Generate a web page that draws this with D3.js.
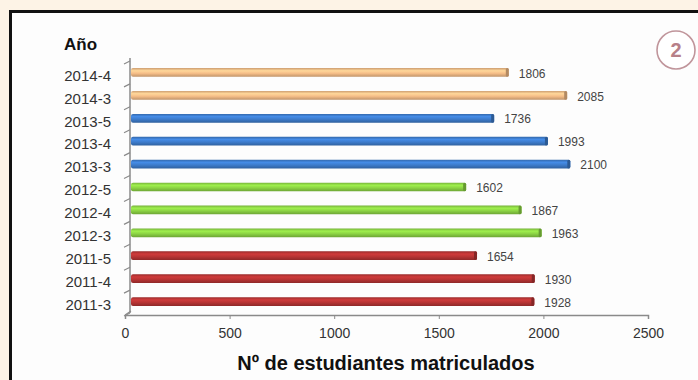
<!DOCTYPE html>
<html><head><meta charset="utf-8">
<script src="https://cdn.jsdelivr.net/npm/d3@7"></script>
<style>
html,body{margin:0;padding:0;background:#fdf3e6;}
svg{display:block;}
</style></head>
<body>
<svg id="c" width="698" height="380"></svg>
<script>
const categories = ["2011-3","2011-4","2011-5","2012-3","2012-4","2012-5","2013-3","2013-4","2013-5","2014-3","2014-4"];
const values = [1928,1930,1654,1963,1867,1602,2100,1993,1736,2085,1806];
const groups = ["2011","2011","2011","2012","2012","2012","2013","2013","2013","2014","2014"];
const groupNames = ["2011","2012","2013","2014"];
const groupColors = ["#b83434","#8cd444","#3d7ccc","#f6be88"];
const xTicks = [0,500,1000,1500,2000,2500];
const yTitle = "Año";
const xTitle = "Nº de estudiantes matriculados";
const badge = "2";

const svg = d3.select("#c");
// panel
svg.append("rect").attr("x",0).attr("y",0).attr("width",698).attr("height",380).attr("fill","#fdf3e6");
svg.append("rect").attr("x",11).attr("y",12).attr("width",700).attr("height",380).attr("fill","#fdfdfd");
svg.append("line").attr("x1",9.5).attr("x2",698).attr("y1",11.5).attr("y2",11.5).attr("stroke","#111").attr("stroke-width",3);
svg.append("line").attr("x1",10.5).attr("x2",10.5).attr("y1",10).attr("y2",380).attr("stroke","#111").attr("stroke-width",3);

const color = d3.scaleOrdinal().domain(groupNames).range(groupColors);
const x = d3.scaleLinear().domain([0,2500]).range([125,648]);
const y = d3.scaleBand().domain(categories.slice().reverse()).range([61,313]).paddingInner(0.62).paddingOuter(0.31);
const data = categories.map((c,i)=>({c, v:values[i], g:groups[i]}));

// gradients
const defs = svg.append("defs");
groupNames.forEach((g,i)=>{
  const base = d3.color(groupColors[i]);
  const gr = defs.append("linearGradient").attr("id","g"+g).attr("x1",0).attr("x2",0).attr("y1",0).attr("y2",1);
  gr.append("stop").attr("offset","0%").attr("stop-color",base.darker(0.5));
  gr.append("stop").attr("offset","30%").attr("stop-color",base.brighter(0.35));
  gr.append("stop").attr("offset","60%").attr("stop-color",base);
  gr.append("stop").attr("offset","100%").attr("stop-color",base.darker(0.7));
});

// axes
const axisColor = "#8a8a8a";
const xAxis = d3.axisBottom(x).tickValues(xTicks).tickSize(4).tickPadding(9).tickFormat(d3.format("d"));
const gx = svg.append("g").attr("transform","translate(0,315)").call(xAxis);
gx.select(".domain").attr("stroke",axisColor).attr("stroke-width",1.5);
gx.selectAll(".tick line").attr("stroke",axisColor);
gx.selectAll("text").attr("font-family","'Liberation Sans', Arial, sans-serif").attr("font-size",14).attr("fill","#333");

svg.append("line").attr("x1",130).attr("x2",130).attr("y1",58).attr("y2",313).attr("stroke",axisColor).attr("stroke-width",1.5);
svg.append("line").attr("x1",125).attr("x2",131).attr("y1",315).attr("y2",311).attr("stroke",axisColor).attr("stroke-width",1.2);
const bounds = categories.map(c=>y(c)-y.step()*y.paddingInner()/2).concat([313]);
svg.append("g").selectAll("line").data(bounds).join("line")
  .attr("x1",124).attr("x2",130).attr("y1",d=>d+3).attr("y2",d=>d)
  .attr("stroke",axisColor).attr("stroke-width",1.2);

svg.append("g").selectAll("text").data(categories).join("text")
  .attr("x",111).attr("y",c=>y(c)+y.bandwidth()/2+3)
  .attr("dy","0.35em").attr("text-anchor","end")
  .attr("font-family","'Liberation Sans', Arial, sans-serif").attr("font-size",15).attr("fill","#333")
  .text(c=>c);

// bars
const off = 6;
const bars = svg.append("g");
bars.selectAll("rect.bar").data(data).join("rect").attr("class","bar")
  .attr("x",x(0)+off).attr("y",d=>y(d.c)).attr("height",y.bandwidth())
  .attr("width",d=>x(d.v)-x(0)).attr("rx",2)
  .attr("fill",d=>"url(#g"+d.g+")");
bars.selectAll("rect.cap").data(data).join("rect").attr("class","cap")
  .attr("x",d=>x(d.v)+off-3).attr("y",d=>y(d.c)).attr("height",y.bandwidth())
  .attr("width",3).attr("rx",1.5)
  .attr("fill",d=>d3.color(color(d.g)).darker(0.9));

svg.append("g").selectAll("text").data(data).join("text")
  .attr("x",d=>x(d.v)+off+10).attr("y",d=>y(d.c)+y.bandwidth()/2+1)
  .attr("dy","0.35em")
  .attr("font-family","'Liberation Sans', Arial, sans-serif").attr("font-size",12).attr("fill","#444")
  .text(d=>d.v);

// titles
svg.append("text").attr("x",64).attr("y",50).attr("font-family","'Liberation Sans', Arial, sans-serif")
  .attr("font-weight","bold").attr("font-size",17).attr("fill","#111").text(yTitle);
svg.append("text").attr("x",386).attr("y",370).attr("text-anchor","middle").attr("font-family","'Liberation Sans', Arial, sans-serif")
  .attr("font-weight","bold").attr("font-size",20).attr("fill","#111").text(xTitle);

// badge
svg.append("circle").attr("cx",676).attr("cy",50).attr("r",19).attr("fill","#fff").attr("stroke","#c0959b").attr("stroke-width",1.6);
svg.append("text").attr("x",676).attr("y",50).attr("dy","0.36em").attr("text-anchor","middle")
  .attr("font-family","'Liberation Sans', Arial, sans-serif").attr("font-weight","bold").attr("font-size",20).attr("fill","#b78088").text(badge);
</script>
</body></html>
